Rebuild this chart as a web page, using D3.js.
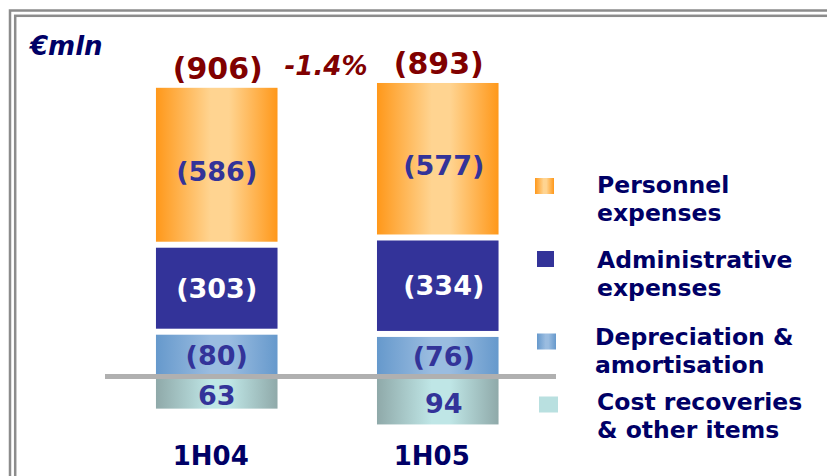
<!DOCTYPE html>
<html>
<head>
<meta charset="utf-8">
<script src="https://cdn.jsdelivr.net/npm/d3@7"></script>
<style>
  body { margin: 0; background: #fff; }
  text { font-family: "DejaVu Sans", Verdana, sans-serif; font-weight: bold; }
</style>
</head>
<body>
<script>
var periods = ["1H04", "1H05"];
var series = ["Personnel expenses", "Administrative expenses", "Depreciation & amortisation", "Cost recoveries & other items"];
var personnel = [586, 577];
var administrative = [303, 334];
var depreciation = [80, 76];
var recoveries = [63, 94];
var totals = [906, 893];
var change = "-1.4%";

var w = 827, h = 476;
var y0 = 376.5;

var svg = d3.select("body").append("svg")
  .attr("width", w)
  .attr("height", h);

var defs = svg.append("defs");
function grad(id, edge, mid) {
  var g = defs.append("linearGradient").attr("id", id)
    .attr("x1", "0%").attr("x2", "100%").attr("y1", "0%").attr("y2", "0%");
  g.append("stop").attr("offset", "0%").attr("stop-color", edge);
  g.append("stop").attr("offset", "45%").attr("stop-color", mid);
  g.append("stop").attr("offset", "60%").attr("stop-color", mid);
  g.append("stop").attr("offset", "100%").attr("stop-color", edge);
}
grad("gOrange", "#ff981a", "#ffd491");
grad("gBlue", "#6699cc", "#9abce0");
grad("gTeal", "#8fa9a9", "#bfe6e6");

// frame
svg.append("rect").attr("x", 10).attr("y", 10.5).attr("width", 900).attr("height", 600)
  .attr("fill", "none").attr("stroke", "#8c8c8c").attr("stroke-width", 2.5);
svg.append("rect").attr("x", 15.2).attr("y", 15.8).attr("width", 900).attr("height", 600)
  .attr("fill", "none").attr("stroke", "#8c8c8c").attr("stroke-width", 2.5);

var xScale = d3.scaleBand()
  .domain(periods)
  .range([56.5, 598])
  .paddingInner(0.45)
  .paddingOuter(0.45);

// small items are drawn enlarged, as on the slide
var yScale = d3.scaleLinear()
  .domain([-100, 0, 100, 1000])
  .range([y0 + 51, y0, y0 - 56, y0 - 297]);

var colors = ["url(#gOrange)", "#333399", "url(#gBlue)", "url(#gTeal)"];
var labelColors = ["#333399", "#ffffff", "#333399", "#333399"];

var segs = [];
periods.forEach(function(p, i) {
  var vals = [personnel[i], administrative[i], depreciation[i]];
  var lo = 0;
  var stack = [];
  for (var k = vals.length - 1; k >= 0; k--) {
    stack.unshift({period: p, k: k, lo: lo, hi: lo + vals[k], v: vals[k]});
    lo += vals[k];
  }
  stack.push({period: p, k: 3, lo: -recoveries[i], hi: 0, v: recoveries[i]});
  segs = segs.concat(stack);
});

var gap = 6;
function segTop(d) { return yScale(d.hi) + (d.k == 1 || d.k == 2 ? gap / 2 : 0); }
function segBot(d) { return yScale(d.lo) - (d.k == 0 || d.k == 1 ? gap / 2 : 0); }

svg.selectAll("rect.seg")
  .data(segs)
  .enter().append("rect")
  .attr("class", "seg")
  .attr("x", function(d) { return xScale(d.period); })
  .attr("width", xScale.bandwidth())
  .attr("y", segTop)
  .attr("height", function(d) { return segBot(d) - segTop(d); })
  .attr("fill", function(d) { return colors[d.k]; });

// baseline
svg.append("line")
  .attr("x1", 105).attr("x2", 556)
  .attr("y1", yScale(0)).attr("y2", yScale(0))
  .attr("stroke", "#b0b0b0").attr("stroke-width", 5);

// segment labels
svg.selectAll("text.seg")
  .data(segs)
  .enter().append("text")
  .attr("class", "seg")
  .attr("x", function(d) { return xScale(d.period) + xScale.bandwidth() / 2 + (d.period == "1H05" ? 6 : 0); })
  .attr("y", function(d) {
    var c = (segTop(d) + segBot(d)) / 2;
    if (d.k == 0) c += 7;
    if (d.k == 3) c += 3;
    return c;
  })
  .attr("dy", "0.36em")
  .attr("text-anchor", "middle")
  .attr("fill", function(d) { return labelColors[d.k]; })
  .style("font-size", "27px")
  .text(function(d) { return d.k == 3 ? d.v : "(" + d.v + ")"; });

// totals
svg.selectAll("text.total")
  .data(periods)
  .enter().append("text")
  .attr("class", "total")
  .attr("x", function(d) { return xScale(d) + xScale.bandwidth() / 2 + 1; })
  .attr("y", function(d, i) { return yScale(personnel[i] + administrative[i] + depreciation[i]) - 9; })
  .attr("text-anchor", "middle")
  .attr("fill", "#800000")
  .style("font-size", "30px")
  .text(function(d, i) { return "(" + totals[i] + ")"; });

svg.append("text")
  .attr("x", 326).attr("y", 75)
  .attr("text-anchor", "middle")
  .attr("fill", "#800000")
  .style("font-size", "26px")
  .style("font-style", "italic")
  .text(change);

// unit
svg.append("text")
  .attr("x", 30).attr("y", 55)
  .attr("fill", "#000066")
  .style("font-size", "26px")
  .style("font-style", "italic")
  .text("€mln");

// x axis labels
svg.selectAll("text.cat")
  .data(periods)
  .enter().append("text")
  .attr("class", "cat")
  .attr("x", function(d) { return xScale(d) + xScale.bandwidth() / 2 - 6; })
  .attr("y", 465)
  .attr("text-anchor", "middle")
  .attr("fill", "#000066")
  .style("font-size", "26px")
  .text(function(d) { return d; });

// legend
var legendFill = ["url(#gOrange)", "#333399", "url(#gBlue)", "#b9e0e0"];
var legendY = [186, 259, 341.5, 404.5];
var legendLines = [["Personnel", "expenses"], ["Administrative", "expenses"], ["Depreciation &", "amortisation"], ["Cost recoveries", "& other items"]];
var legendBase = [192.5, 268, 345, 409.5];
var legend = svg.selectAll("g.legend")
  .data(series)
  .enter().append("g")
  .attr("class", "legend");
legend.append("rect")
  .attr("x", function(d, i) { return i == 0 ? 535 : (i == 3 ? 539 : 537); })
  .attr("y", function(d, i) { return legendY[i] - 8; })
  .attr("width", function(d, i) { return i == 1 ? 17 : 19; })
  .attr("height", 16)
  .attr("fill", function(d, i) { return legendFill[i]; });
legend.append("text")
  .attr("x", function(d, i) { return i == 2 ? 595 : 597; })
  .attr("y", function(d, i) { return legendBase[i]; })
  .attr("fill", "#000066")
  .style("font-size", "23.5px")
  .selectAll("tspan")
  .data(function(d, i) { return legendLines[i]; })
  .enter().append("tspan")
  .attr("x", function() { return d3.select(this.parentNode).attr("x"); })
  .attr("dy", function(d, j) { return j == 0 ? 0 : 28; })
  .text(function(d) { return d; });
</script>
</body>
</html>
